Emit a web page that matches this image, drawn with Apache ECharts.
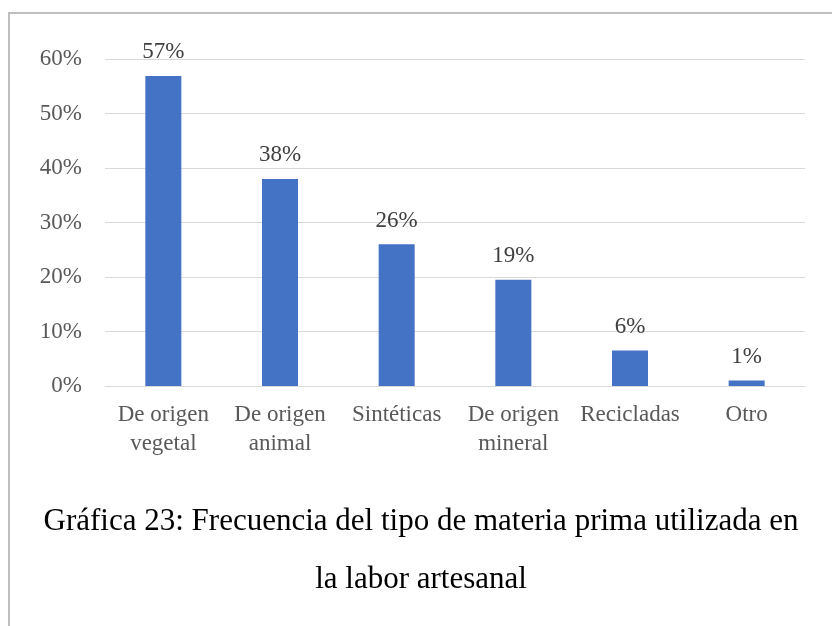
<!DOCTYPE html>
<html>
<head>
<meta charset="utf-8">
<script src="https://cdn.jsdelivr.net/npm/echarts@6/dist/echarts.min.js"></script>
<style>
  html, body { margin: 0; padding: 0; background: #fff; }
  #chart { width: 832px; height: 626px; }
</style>
</head>
<body>
<div id="chart"></div>
<script>
const categories = ["De origen\nvegetal", "De origen\nanimal", "Sintéticas", "De origen\nmineral", "Recicladas", "Otro"];
const values = [56.9, 38, 26, 19.5, 6.5, 1];
const valueLabels = ["57%", "38%", "26%", "19%", "6%", "1%"];
const yTicks = [0, 10, 20, 30, 40, 50, 60];

const serif = "'Liberation Serif', 'Times New Roman', serif";

const myChart = echarts.init(document.getElementById("chart"));

const option = {
  animation: false,
  textStyle: { fontFamily: serif },
  graphic: [
    {
      type: "rect",
      shape: { x: 9, y: 13, width: 900, height: 700 },
      style: { fill: "none", stroke: "#BFBFBF", lineWidth: 2 },
      silent: true,
    },
  ],
  title: {
    text: "Gráfica 23: Frecuencia del tipo de materia prima utilizada en\nla labor artesanal",
    left: 416,
    top: 488,
    textAlign: "center",
    textStyle: {
      fontFamily: serif,
      fontWeight: "normal",
      fontSize: 31,
      lineHeight: 58,
      color: "#000",
    },
  },
  grid: {
    left: 105,
    right: 27,
    top: 59,
    bottom: 240,
    containLabel: false,
  },
  xAxis: {
    type: "category",
    data: categories,
    axisLine: { lineStyle: { color: "#D9D9D9", width: 1 } },
    axisTick: { show: false },
    axisLabel: {
      fontFamily: serif,
      fontSize: 23,
      lineHeight: 29,
      color: "#595959",
      margin: 14,
      interval: 0,
    },
  },
  yAxis: {
    type: "value",
    min: yTicks[0],
    max: yTicks[yTicks.length - 1],
    interval: 10,
    axisLine: { show: false },
    axisTick: { show: false },
    axisLabel: {
      fontFamily: serif,
      fontSize: 23,
      color: "#595959",
      margin: 23,
      formatter: "{value}%",
    },
    splitLine: { lineStyle: { color: "#D9D9D9", width: 1 } },
  },
  series: [
    {
      type: "bar",
      data: values,
      barWidth: 36,
      itemStyle: { color: "#4472C4" },
      label: {
        show: true,
        position: "top",
        distance: 12,
        fontFamily: serif,
        fontSize: 23,
        color: "#404040",
        formatter: (p) => valueLabels[p.dataIndex],
      },
    },
  ],
};

myChart.setOption(option);
</script>
</body>
</html>
